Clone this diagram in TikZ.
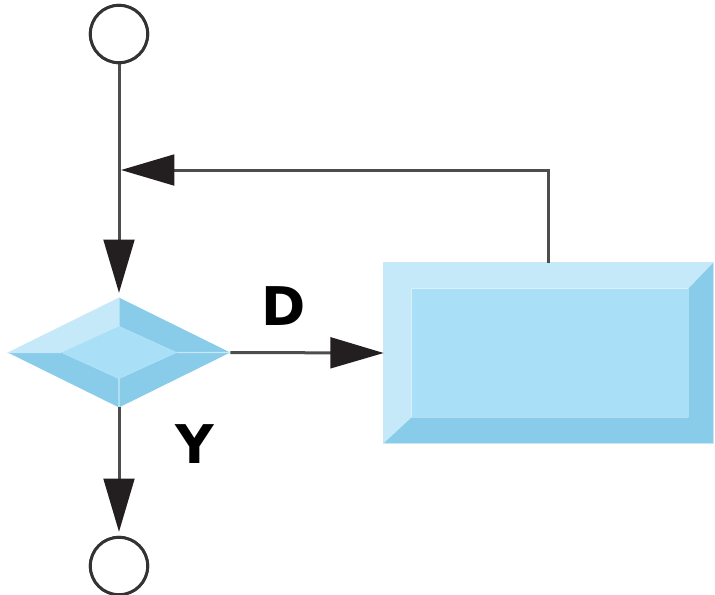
\documentclass[tikz,border=0pt]{standalone}
\usepackage{fontspec}
\setmainfont{DejaVu Sans}
\usetikzlibrary{arrows.meta,shapes.geometric,calc}

\definecolor{bevellight}{HTML}{C6E9F9}
\definecolor{beveldark}{HTML}{88CCEA}
\definecolor{bevelface}{HTML}{AADFF8}
\definecolor{wire}{HTML}{4D4D4D}
\definecolor{tipfill}{HTML}{231F20}
\definecolor{ringline}{HTML}{333333}

\begin{document}
\begin{tikzpicture}[x=0.75pt,y=-0.75pt,
  flow/.style={draw=wire, line width=2.25pt,
    -{Triangle[length=40pt,width=23pt,color=tipfill,fill=tipfill]}},
  terminal/.style={circle, draw=ringline, line width=2.2pt, fill=white,
    minimum size=43pt, inner sep=0pt},
  decision/.style={shape=diamond, minimum width=166.5pt, minimum height=82pt,
    inner sep=0pt},
  process/.style={rectangle, minimum width=246.75pt, minimum height=135pt,
    inner sep=0pt},
  tag/.style={font=\bfseries\fontsize{40}{40}\selectfont, inner sep=0pt}
]
\useasboundingbox (0,0) rectangle (715,594);

% node outlines (invisible), filled with bevel facets below
\node[terminal] (start) at (119,34) {};
\node[decision] (dec) at (119,352.5) {};
\node[process] (proc) at (548.5,353) {};
\node[terminal] (stop) at (119,566) {};
\coordinate (join) at (119,170);

% bevelled diamond
\coordinate (dn) at ($(dec.center)!0.48!(dec.north)$);
\coordinate (ds) at ($(dec.center)!0.48!(dec.south)$);
\coordinate (de) at ($(dec.center)!0.52!(dec.east)$);
\coordinate (dw) at ($(dec.center)!0.52!(dec.west)$);
\fill[bevellight] (dec.west) -- (dec.north) -- (dn) -- (dw) -- cycle;
\fill[beveldark] (dec.north) -- (dec.east) -- (de) -- (dn) -- cycle;
\fill[beveldark] (dec.east) -- (dec.south) -- (ds) -- (de) -- cycle;
\fill[beveldark] (dec.south) -- (dec.west) -- (dw) -- (ds) -- cycle;
\fill[bevelface] (dn) -- (de) -- (ds) -- (dw) -- cycle;
\draw[bevellight, line width=0.8pt] (dec.west) -- (dw) (de) -- (dec.east)
  (dec.north) -- (dn) (ds) -- (dec.south);

% bevelled rectangle
\coordinate (pnw) at ($(proc.north west)+(28,26)$);
\coordinate (pne) at ($(proc.north east)+(-25,26)$);
\coordinate (pse) at ($(proc.south east)+(-25,-26)$);
\coordinate (psw) at ($(proc.south west)+(28,-26)$);
\fill[bevellight] (proc.south west) -- (proc.north west) -- (proc.north east)
  -- (pne) -- (pnw) -- (psw) -- cycle;
\fill[beveldark] (proc.north east) -- (proc.south east) -- (proc.south west)
  -- (psw) -- (pse) -- (pne) -- cycle;
\fill[bevelface] (pnw) rectangle (pse);
\draw[bevellight, line width=1pt] (proc.south west) rectangle (proc.north east);

% connectors
\draw[flow, shorten >=3.5pt] (start) -- (dec.north);
\draw[flow, shorten >=1.5pt] (proc.north) |- (join);
\draw[flow] (dec.east) -- (proc.west);
\draw[flow, shorten >=3pt] (dec.south) -- (stop);

% terminals drawn over the line ends
\node[terminal] at (start.center) {};
\node[terminal] at (stop.center) {};

% branch labels
\node[tag] (lblD) at (283.5,306) {D};
\node[tag] (lblY) at (195,444) {Y};
\end{tikzpicture}
\end{document}
